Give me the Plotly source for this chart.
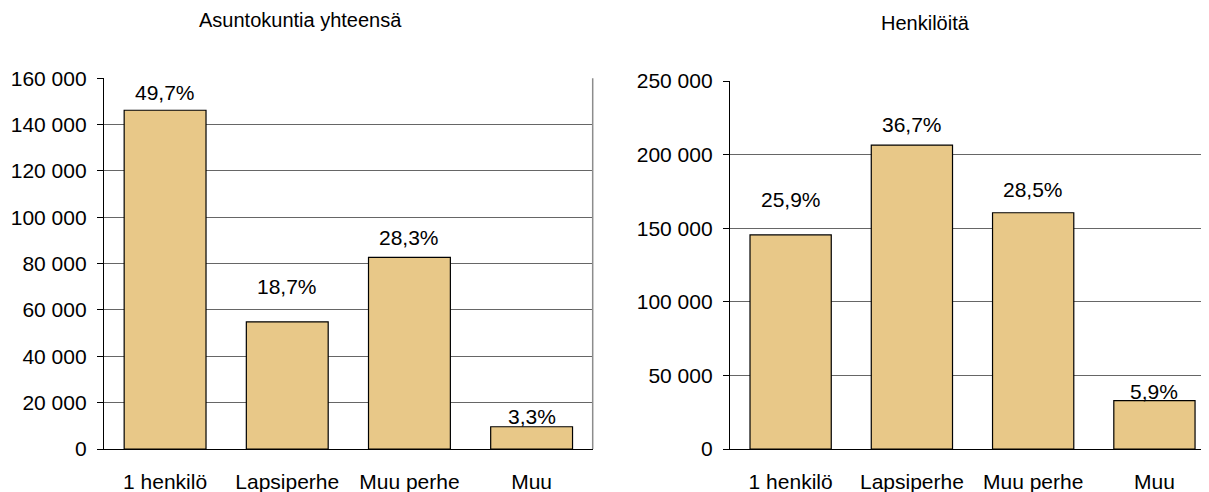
"""Kaksi pylväskuviota: asuntokunnat ja henkilöt asuntokuntatyypin mukaan."""

import plotly.graph_objects as go

CATEGORIES = ["1 henkilö", "Lapsiperhe", "Muu perhe", "Muu"]

HOUSEHOLDS = [146200, 54900, 82700, 9600]
HOUSEHOLD_PCT = ["49,7%", "18,7%", "28,3%", "3,3%"]

PERSONS = [145400, 206500, 160500, 32800]
PERSON_PCT = ["25,9%", "36,7%", "28,5%", "5,9%"]

LEFT_TICKS = [0, 20000, 40000, 60000, 80000, 100000, 120000, 140000, 160000]
RIGHT_TICKS = [0, 50000, 100000, 150000, 200000, 250000]

# label offsets above bar tops (px), roughly as placed in the original
_LEFT_SHIFT = [4, 22, 6, -3]
_RIGHT_SHIFT = [22, 7, 10, -4]

_FONT = "Liberation Sans, Arial, sans-serif"
_BAR = "rgb(232,200,136)"
_GRID = "#666666"

# the page body adds an 8px margin, so the figure is drawn 8px smaller
W, H = 1201, 484


def px_x(x):
    return x / W


def px_y(y):
    return (H - y) / H


fig = go.Figure()

for xa, ya, vals in (("x", "y", HOUSEHOLDS), ("x2", "y2", PERSONS)):
    fig.add_trace(
        go.Bar(
            x=CATEGORIES,
            y=vals,
            xaxis=xa,
            yaxis=ya,
            marker={"color": _BAR, "line": {"color": "black", "width": 1.2}},
            width=0.67,
            showlegend=False,
            hoverinfo="skip",
        )
    )

for xref, yref, vals, labels, shifts in (
    ("x", "y", HOUSEHOLDS, HOUSEHOLD_PCT, _LEFT_SHIFT),
    ("x2", "y2", PERSONS, PERSON_PCT, _RIGHT_SHIFT),
):
    for cat, v, lab, s in zip(CATEGORIES, vals, labels, shifts):
        fig.add_annotation(
            x=cat, y=v, xref=xref, yref=yref, text=lab, showarrow=False,
            yanchor="bottom", yshift=s, font={"size": 21, "color": "black"},
        )

fig.add_annotation(
    x=px_x(292), y=px_y(12), xref="paper", yref="paper", text="Asuntokuntia yhteensä",
    showarrow=False, xanchor="center", yanchor="middle", font={"size": 20, "color": "black"},
)
fig.add_annotation(
    x=px_x(917), y=px_y(15), xref="paper", yref="paper", text="Henkilöitä",
    showarrow=False, xanchor="center", yanchor="middle", font={"size": 20, "color": "black"},
)

# gray right border of the left plot
fig.add_shape(
    type="line", xref="x domain", yref="y domain", x0=1, x1=1, y0=0, y1=1,
    line={"color": "#8c8c8c", "width": 1.5},
)

xcommon = dict(
    showline=True, linecolor="black", linewidth=1.3, showgrid=False, ticks="",
    ticklabelstandoff=14, tickfont={"size": 21, "color": "black"}, automargin=False,
)
ycommon = dict(
    showline=True, linecolor="black", linewidth=1.3, showgrid=True, gridcolor=_GRID,
    gridwidth=1.3, ticks="outside", ticklen=6, tickcolor="black", tickformat=",d",
    ticklabelstandoff=6, tickfont={"size": 21, "color": "black"}, zeroline=False,
    automargin=False,
)

fig.update_layout(
    width=W,
    height=H,
    margin={"l": 0, "r": 0, "t": 0, "b": 0, "autoexpand": False},
    paper_bgcolor="white",
    plot_bgcolor="white",
    separators=", ",
    font={"family": _FONT, "color": "black"},
    xaxis=dict(xcommon, domain=[px_x(96), px_x(584.7)], range=[-0.5, 3.5]),
    yaxis=dict(ycommon, domain=[px_y(441), px_y(70.3)], range=[0, 160000], tickvals=LEFT_TICKS),
    xaxis2=dict(xcommon, domain=[px_x(722), 1], range=[-0.5, 3.45], anchor="y2"),
    yaxis2=dict(ycommon, domain=[px_y(441), px_y(73)], range=[0, 250000], tickvals=RIGHT_TICKS,
                anchor="x2"),
)

fig.write_html("out.html")
